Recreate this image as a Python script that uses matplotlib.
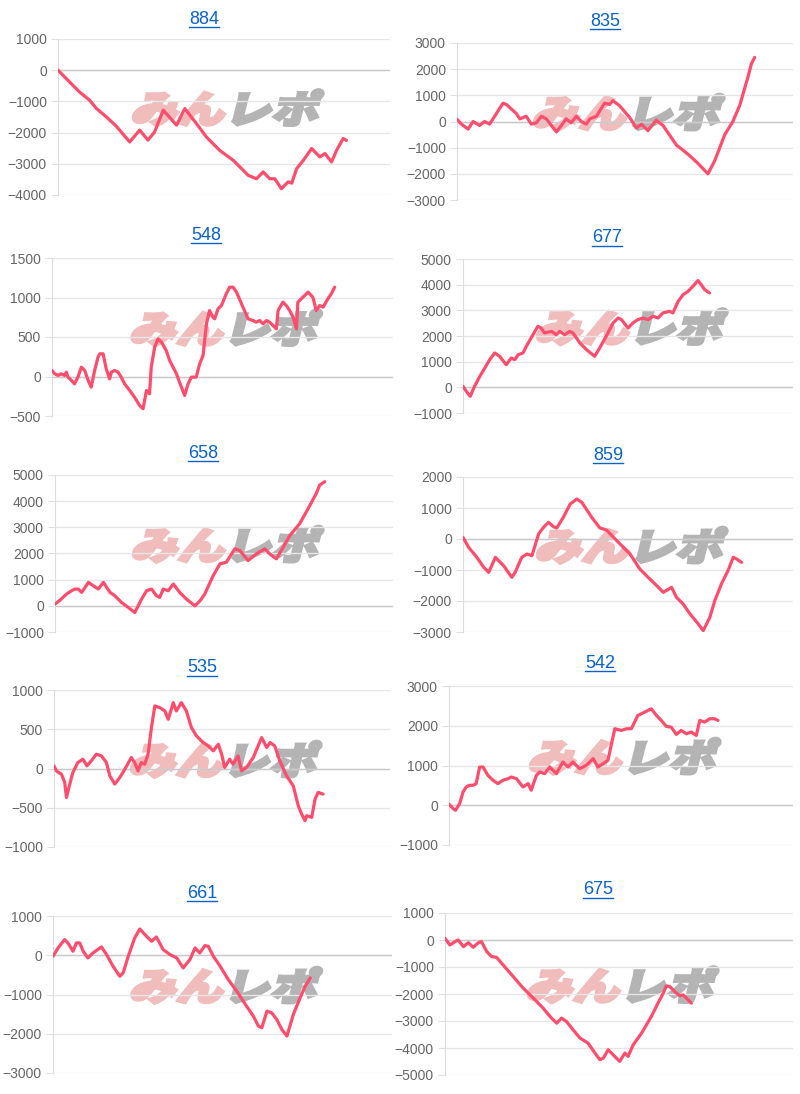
import numpy as np
import matplotlib
matplotlib.use("Agg")
import matplotlib.pyplot as plt
import matplotlib.transforms as mtransforms
from matplotlib.textpath import TextPath
from matplotlib.patches import PathPatch
from matplotlib.font_manager import FontProperties
from matplotlib.lines import Line2D

plt.rcParams['font.family'] = ['Liberation Sans', 'DejaVu Sans']

# panel titles (machine numbers)
titles = ['884', '835', '548', '677', '658', '859', '535', '542', '661', '675']

# x: position along the game axis (0-100), y: difference in medals
x_884 = [0, 2.5, 6.5, 9.5, 11.6, 14.6, 17.6, 21.6, 24.6, 27.1, 29.1, 31.7, 35.7, 38.2, 41.7, 44.7, 48.7,
         52.8, 57.3, 59.8, 61.8, 63.8, 65.3, 67.3, 69.3, 70.4, 71.9, 73.9, 76.4, 78.9, 80.4, 82.4, 83.9,
         85.9, 86.9]
y_884 = [0, -270, -700, -960, -1230, -1500, -1800, -2300, -1920, -2240, -1980, -1280, -1760, -1230,
         -1710, -2140, -2570, -2890, -3370, -3480, -3260, -3480, -3480, -3800, -3580, -3620, -3150,
         -2890, -2510, -2780, -2670, -2940, -2570, -2190, -2250]

x_835 = [0, 1.3, 3.3, 4.8, 6.7, 8.2, 9.7, 13.7, 14.7, 17.7, 18.7, 20.6, 22.1, 23.6, 25.1, 26.6, 29.6,
         32.5, 34.0, 35.5, 37.0, 38.5, 39.5, 41.5, 43.9, 45.4, 46.4, 48.4, 51.4, 53.4, 54.9, 56.8, 59.3,
         61.3, 65.3, 67.3, 69.2, 71.7, 73.2, 74.7, 76.7, 79.7, 82.1, 84.1, 86.6, 87.6, 88.6]
y_835 = [90, -100, -290, 0, -150, 0, -100, 700, 650, 300, 100, 200, -100, -50, 200, 100, -400, 100, -50,
         200, 0, -100, 100, 200, 700, 650, 800, 600, 150, -250, -100, -350, 50, -150, -900, -1100,
         -1300, -1600, -1800, -2000, -1500, -500, 0, 600, 1700, 2200, 2450]

x_548 = [0, 0.8, 1.8, 2.7, 3.7, 4.2, 4.7, 5.7, 6.6, 7.6, 8.6, 9.6, 10.6, 11.5, 12.5, 13.5, 14.0, 15.0,
         15.9, 16.9, 17.4, 18.4, 19.4, 20.3, 21.3, 22.8, 24.2, 25.7, 26.7, 27.7, 28.6, 29.1, 30.1, 31.1,
         32.1, 33.5, 34.5, 36.5, 37.4, 38.9, 39.9, 40.9, 42.3, 43.3, 44.3, 45.3, 46.2, 47.2, 47.7, 48.7,
         49.7, 51.1, 52.1, 53.1, 54.1, 56.0, 57.5, 58.9, 59.9, 60.9, 61.9, 62.9, 63.8, 64.8, 65.8, 66.3,
         67.7, 68.7, 69.7, 70.7, 71.7, 72.1, 73.1, 74.1, 75.1, 76.5, 77.5, 78.5, 79.5, 80.9, 81.9, 82.9]
y_548 = [76, 34, 13, 34, 13, 55, -8, -50, -93, -8, 118, 76, -50, -135, 76, 245, 287, 287, 97, -30, 55, 76,
         55, -8, -93, -177, -262, -367, -409, -177, -219, 118, 371, 477, 435, 329, 203, 34, -72, -240,
         -93, -8, -8, 160, 266, 667, 835, 751, 730, 857, 899, 1046, 1131, 1131, 1068, 878, 730, 709, 688,
         709, 667, 709, 688, 646, 603, 835, 941, 899, 835, 751, 603, 941, 983, 1025, 1068, 1004, 835,
         899, 878, 983, 1046, 1131]

x_677 = [0, 1.0, 2.2, 3.5, 5.1, 6.6, 8.1, 9.6, 11.1, 13.1, 14.6, 15.7, 16.7, 18.2, 19.2, 21.2, 22.7,
         23.7, 24.7, 26.8, 28.3, 29.3, 30.8, 32.3, 33.3, 35.4, 37.4, 39.9, 41.4, 43.4, 45.5, 47.0, 48.0,
         50.0, 51.5, 53.0, 54.5, 56.1, 57.6, 59.1, 60.6, 62.6, 63.6, 65.2, 66.7, 68.2, 69.7, 71.2, 72.2,
         73.2, 74.7]
y_677 = [40, -156, -350, 40, 430, 750, 1080, 1340, 1210, 880, 1140, 1080, 1270, 1340, 1600, 2050, 2380,
         2310, 2120, 2180, 2050, 2180, 2050, 2180, 2120, 1730, 1470, 1210, 1530, 1990, 2510, 2700, 2640,
         2310, 2510, 2640, 2700, 2640, 2770, 2700, 2900, 2960, 2900, 3350, 3610, 3740, 3940, 4160, 4000,
         3810, 3680]

x_658 = [0, 1.5, 3.4, 4.9, 5.9, 6.9, 7.9, 8.9, 9.9, 11.3, 12.8, 14.3, 16.3, 17.7, 19.7, 21.7, 23.6,
         25.6, 27.1, 28.6, 30.0, 31.0, 32.0, 33.5, 35.0, 36.9, 38.9, 41.4, 42.9, 44.3, 46.8, 48.8, 50.7,
         53.2, 54.7, 57.1, 59.6, 62.1, 63.5, 65.5, 67.5, 69.5, 72.4, 74.9, 77.3, 78.3, 79.8]
y_658 = [64, 218, 449, 577, 641, 641, 513, 705, 897, 769, 641, 897, 513, 385, 128, -64, -256, 256, 577,
         641, 385, 321, 641, 577, 833, 513, 256, 0, 192, 449, 1154, 1603, 1667, 2179, 2115, 1731, 1987,
         2179, 1987, 1795, 2244, 2692, 3141, 3718, 4295, 4615, 4744]

x_859 = [0, 1.7, 4.2, 6.3, 7.8, 9.8, 12.3, 14.8, 15.8, 17.8, 19.4, 20.9, 22.9, 24.4, 25.9, 27.4, 28.4,
         30.4, 32.5, 34.5, 36.0, 39.0, 41.5, 43.5, 45.6, 48.1, 50.6, 53.6, 56.1, 58.7, 60.7, 63.2, 64.7,
         66.7, 68.8, 71.3, 72.8, 74.8, 76.3, 78.3, 80.3, 81.9, 82.9, 84.4]
y_859 = [54, -269, -591, -914, -1075, -591, -860, -1237, -1075, -591, -484, -538, 161, 376, 538, 398, 355,
         699, 1129, 1290, 1183, 699, 355, 290, 54, -215, -484, -968, -1237, -1505, -1720, -1559, -1882,
         -2097, -2419, -2742, -2957, -2527, -1989, -1452, -1022, -591, -645, -753]

x_535 = [0, 0.7, 2.2, 3.2, 3.7, 4.7, 5.6, 7.1, 8.6, 9.8, 11.1, 12.6, 14.1, 15.6, 16.6, 18.1, 19.6, 21.1,
         23.0, 24.0, 25.0, 26.0, 27.0, 28.0, 29.0, 30.0, 31.5, 33.0, 34.0, 35.5, 36.4, 37.9, 39.4, 40.9,
         42.4, 44.4, 45.9, 47.4, 48.9, 49.9, 50.8, 52.3, 53.3, 54.8, 55.8, 57.3, 59.3, 61.8, 63.3, 64.3,
         65.7, 67.2, 69.2, 71.2, 72.7, 73.7, 74.7, 75.2, 76.7, 77.7, 78.6, 80.1]
y_535 = [34, -30, -72, -178, -369, -199, -51, 76, 119, 34, 97, 182, 161, 76, -93, -199, -114, -8, 140, 76,
         -30, 76, 55, 182, 521, 797, 775, 733, 627, 839, 733, 839, 733, 521, 415, 331, 288, 225, 309, 182,
         13, 119, 55, 161, -30, 13, 140, 394, 267, 331, 288, 97, -93, -220, -475, -581, -665, -602, -623,
         -390, -305, -326]

x_542 = [0, 1.2, 1.9, 3.1, 4.1, 5.0, 6.0, 7.0, 7.9, 8.9, 9.9, 11.3, 12.8, 14.2, 15.7, 17.2, 18.1, 19.6,
         21.5, 23.0, 23.9, 25.4, 26.4, 27.8, 29.3, 31.2, 33.1, 34.6, 36.0, 38.0, 39.9, 41.9, 43.3, 44.8,
         46.2, 48.2, 50.1, 51.6, 53.0, 54.9, 56.9, 58.8, 60.3, 61.7, 63.2, 64.6, 66.1, 67.5, 69.0, 70.4,
         71.9, 72.9, 74.3, 75.8, 77.2, 78.2]
y_542 = [25, -84, -126, 42, 335, 460, 502, 502, 544, 962, 962, 753, 628, 544, 628, 669, 711, 669, 460, 544,
         377, 753, 837, 795, 962, 795, 1088, 962, 1088, 921, 1004, 1172, 962, 1046, 1130, 1925, 1883, 1925,
         1925, 2259, 2343, 2427, 2259, 2134, 1983, 1966, 1782, 1883, 1799, 1841, 1757, 2134, 2092, 2176,
         2176, 2134]

x_661 = [0, 1.5, 3.4, 4.4, 5.9, 6.9, 7.9, 8.9, 10.3, 11.8, 14.3, 15.8, 17.7, 19.7, 20.7, 22.2, 24.1,
         25.6, 27.6, 29.1, 30.5, 32.5, 34.5, 36.5, 38.4, 40.4, 41.9, 43.3, 44.8, 45.8, 47.3, 49.3, 51.7,
         54.2, 57.1, 59.1, 60.6, 61.6, 63.1, 64.5, 66.0, 67.5, 69.0, 70.9, 72.9, 74.4, 75.9]
y_661 = [-25, 186, 398, 314, 102, 314, 314, 102, -68, 59, 212, 17, -280, -534, -449, -25, 441, 669, 483,
         356, 466, 144, 17, -68, -322, -110, 186, 59, 246, 229, -25, -280, -619, -915, -1297, -1551, -1805,
         -1847, -1424, -1466, -1636, -1890, -2059, -1508, -1085, -788, -576]

x_675 = [0, 1.4, 2.9, 3.8, 5.3, 6.7, 8.1, 9.6, 10.5, 12.0, 13.4, 14.8, 16.7, 19.6, 22.5, 25.4, 28.2,
         30.6, 32.1, 33.5, 34.9, 36.8, 38.8, 41.1, 43.1, 44.5, 45.5, 46.9, 48.3, 50.2, 51.7, 52.6, 54.1,
         56.5, 59.3, 61.2, 62.7, 63.6, 64.6, 66.0, 67.5, 68.4, 69.4, 70.8]
y_675 = [62, -185, -62, 0, -246, -99, -271, -99, -62, -431, -616, -640, -924, -1355, -1786, -2155, -2525,
         -2894, -3079, -2894, -3017, -3325, -3633, -3818, -4187, -4433, -4372, -4064, -4249, -4495, -4187,
         -4310, -3879, -3448, -2833, -2340, -1970, -1700, -1724, -1909, -2069, -2032, -2155, -2340]

series = [(x_884, y_884), (x_835, y_835), (x_548, y_548), (x_677, y_677), (x_658, y_658),
          (x_859, y_859), (x_535, y_535), (x_542, y_542), (x_661, y_661), (x_675, y_675)]

# y axis range and tick step per panel
y_min = [-4000, -3000, -500, -1000, -1000, -3000, -1000, -1000, -3000, -5000]
y_max = [1000, 3000, 1500, 5000, 5000, 2000, 1000, 3000, 1000, 1000]
y_step = [1000, 1000, 500, 1000, 1000, 1000, 500, 1000, 1000, 1000]

# layout in pixels: plot box (left, top, right, bottom), title centre (x, y)
W, H = 800, 1094
boxes = [(58, 39, 390, 195), (457, 43, 793, 200),
         (52, 258, 393, 416), (463, 259, 793, 413),
         (55, 475, 393, 632), (463, 477, 793, 632),
         (54, 690, 390, 847), (449, 686, 793, 845),
         (53, 916, 392, 1073), (445, 913, 793, 1075)]
title_pos = [(204, 19), (605, 21), (206, 236), (607, 238), (203, 453),
             (608, 455), (202, 668), (600, 663), (202, 893), (598, 890)]

line_color = '#ff4d6d'
wm_font = FontProperties(family='Noto Sans CJK JP', weight='black')

fig = plt.figure(figsize=(W / 100, H / 100), dpi=100)
title_texts = []

for i, (xs, ys) in enumerate(series):
    l, t, r, b = boxes[i]
    ax = fig.add_axes([l / W, 1 - b / H, (r - l) / W, (b - t) / H])
    ax.plot(xs, ys, color=line_color, lw=2.3, solid_joinstyle='round', solid_capstyle='round', zorder=3)
    ax.set_xlim(0, 100)
    ax.set_ylim(y_min[i], y_max[i])
    ax.set_yticks(np.arange(y_min[i], y_max[i] + 1, y_step[i]))
    ax.set_xticks([])
    ax.yaxis.grid(True, color='#e6e6e6', lw=1)
    ax.axhline(0, color='#c9c9c9', lw=1, zorder=1)
    ax.set_axisbelow(True)
    for s in ['top', 'right', 'bottom']:
        ax.spines[s].set_visible(False)
    ax.spines['left'].set_color('#dcdcdc')
    ax.tick_params(axis='y', length=5, color='#e0e0e0', labelsize=10, labelcolor='#666666', pad=3)
    ax.patch.set_alpha(0)
    ax.set_zorder(2)

    tx, ty = title_pos[i]
    tt = fig.text(tx / W, 1 - ty / H, titles[i], ha='center', va='center',
                  fontsize=13, color='#0b62c8')
    title_texts.append(tt)

    # watermark, centred a bit above the plot box centre (drawn under the line)
    cx = (l + r) / 2
    cy = H - ((t + b) / 2 - 10)
    sx, sy = 47, 38
    parts = [('みん', '#f0bcbc'), ('レポ', '#b4b4b4')]
    total = 4 * sx
    x0 = cx - total / 2
    for txt, col in parts:
        tp = TextPath((0, 0), txt, size=1, prop=wm_font)
        tr = mtransforms.Affine2D().scale(sx, sy).skew_deg(14, 0).translate(x0, cy - 0.42 * sy)
        fig.add_artist(PathPatch(tp, transform=tr, facecolor=col, edgecolor=col, lw=2.2,
                                 joinstyle='miter', zorder=1))
        x0 += 2 * sx

# underline the titles like links
fig.canvas.draw()
for tt in title_texts:
    bb = tt.get_window_extent()
    yy = bb.y0 + 1
    fig.add_artist(Line2D([bb.x0, bb.x1], [yy, yy], transform=mtransforms.IdentityTransform(),
                          color='#0b62c8', lw=1))

fig.savefig('out.png', dpi=100)
